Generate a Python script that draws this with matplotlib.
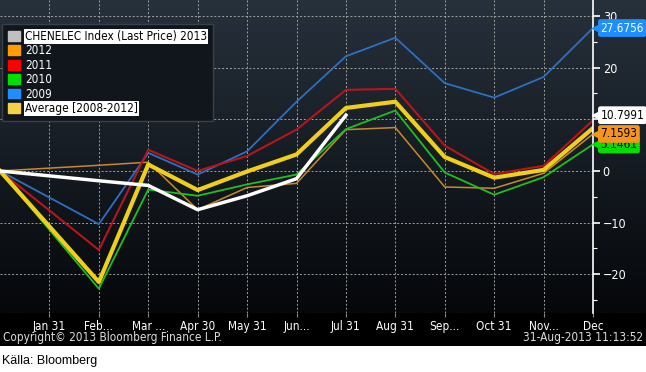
import matplotlib
matplotlib.use('Agg')
import matplotlib.pyplot as plt
import numpy as np
from matplotlib.patches import Rectangle, Patch

# month positions: 0 = start of year, 1..12 = month ends (no Jan point in data)
pos = [0, 2, 3, 4, 5, 6, 7, 8, 9, 10, 11, 12]
pos_2013 = [0, 2, 3, 4, 5, 6, 7]
month_labels = ['Jan 31', 'Feb...', 'Mar ...', 'Apr 30', 'May 31', 'Jun...',
                'Jul 31', 'Aug 31', 'Sep...', 'Oct 31', 'Nov...', 'Dec']

y2009 = [0, -10.3, 3.5, -0.7, 3.8, 13.4, 22.2, 25.8, 17.0, 14.2, 18.2, 27.6756]
y2010 = [0, -22.8, -3.6, -4.8, -2.6, -0.7, 8.1, 11.7, -0.3, -4.6, -1.2, 5.1461]
y2011 = [0, -15.3, 4.1, 0.0, 2.9, 8.0, 15.7, 15.9, 4.9, -0.6, 1.0, 9.8]
y2012 = [0, 1.1, 1.7, -7.5, -3.2, -2.4, 8.0, 8.4, -3.1, -3.35, -0.45, 7.1593]
y_avg = [0, -21.5, 1.25, -3.7, -0.1, 3.2, 12.2, 13.4, 2.7, -1.3, 0.2, 8.3]
y2013 = [0, -1.9, -2.8, -7.5, -4.8, -1.5, 10.7991]

W, H = 646, 372
fig = plt.figure(figsize=(W / 100, H / 100), dpi=100, facecolor='white')
font = dict(family='DejaVu Sans', stretch='condensed')

# black chart panel (footer area)
fig.patches.append(Rectangle((0, (H - 346) / H), 1, 346 / H, transform=fig.transFigure,
                             facecolor='black', edgecolor='none', zorder=-2))

# gradient background behind the plot area, including right label column
bot = (H - 313) / H
ax_bg = fig.add_axes([0, bot, 1, 1 - bot], zorder=0)
grad = np.linspace(1, 0, 256).reshape(-1, 1)
top_c = np.array([0x27, 0x31, 0x3c]) / 255
bot_c = np.array([0x05, 0x07, 0x0a]) / 255
img = bot_c + (top_c - bot_c) * grad[..., None]
ax_bg.imshow(img, aspect='auto', extent=[0, 1, 0, 1])
ax_bg.axis('off')

ax = fig.add_axes([0, bot, 593 / W, 1 - bot], zorder=1)
ax.patch.set_alpha(0)

ax.plot(pos, y2012, color='#c8892c', lw=1.1)
ax.plot(pos, y2010, color='#1fbf1f', lw=1.3)
ax.plot(pos, y2009, color='#2e6fbf', lw=1.3)
ax.plot(pos, y2011, color='#b8141c', lw=1.5)
ax.plot(pos, y_avg, color='#f0cf1a', lw=3)
ax.plot(pos_2013, y2013, color='white', lw=2.5)

ax.set_xlim(0, 12)
ax.set_ylim(-27.5, 33.1)
ax.set_xticks(range(1, 13))
ax.set_xticklabels(month_labels, fontsize=8.5, color='white', **font)
ax.set_yticks([-20, -10, 0, 10, 20, 30])
ax.set_yticks([-25, -15, -5, 5, 15, 25], minor=True)
ax.yaxis.tick_right()
ax.tick_params(axis='y', which='major', colors='white', length=5, width=1.2, pad=2,
               labelsize=9)
ax.tick_params(axis='y', which='minor', colors='white', length=3, width=0.8)
ax.tick_params(axis='x', colors='#888888', length=3, pad=2)
for lab in ax.get_yticklabels():
    lab.set_family(font['family'])
    lab.set_stretch(font['stretch'])
for lab in ax.get_xticklabels():
    lab.set_color('white')

ax.grid(True, which='major', color='#a0a0a0', linestyle=(0, (2, 2)), lw=0.7)
for s in ['top', 'left', 'bottom']:
    ax.spines[s].set_visible(False)
ax.spines['right'].set_color('white')
ax.spines['right'].set_linewidth(1.2)

# right side value tags
tags = [(5.1461, '5.1461', '#00e000', 'black'),
        (7.1593, '7.1593', '#f7941d', 'black'),
        (10.7991, '10.7991', 'white', 'black'),
        (27.6756, '27.6756', '#1e8fff', 'white')]
for val, txt, bg, fg in tags:
    ax.plot([12.09], [val], marker='<', ms=7, color=bg, clip_on=False, zorder=5)
    ax.text(12.15, val, txt, ha='left', va='center', fontsize=8.5, color=fg,
            clip_on=False, zorder=6, **font,
            bbox=dict(boxstyle='round,pad=0.2', fc=bg, ec='none'))

# legend
handles = [Patch(color='#c0c0c0'), Patch(color='#ff9a00'), Patch(color='#ff0000'),
           Patch(color='#00e000'), Patch(color='#1e8fff'), Patch(color='#f5d04a')]
names = ['CHENELEC Index (Last Price) 2013', '2012', '2011', '2010', '2009',
         'Average [2008-2012]']
leg = ax.legend(handles, names, loc='upper left',
                bbox_to_anchor=(2 / W, 1 - 24 / H), bbox_transform=fig.transFigure,
                borderaxespad=0,
                prop=dict(size=8.5, **font), handlelength=1.0, handleheight=0.9,
                handletextpad=0.45, labelspacing=0.12, borderpad=0.5,
                fancybox=False, framealpha=1)
leg.get_frame().set_facecolor('#11161c')
leg.get_frame().set_edgecolor('#3a4048')
for i, t in enumerate(leg.get_texts()):
    if i in (0, 5):
        t.set_color('black')
        t.set_bbox(dict(boxstyle='square,pad=0.1', fc='white', ec='none'))
    else:
        t.set_color('white')

fig.text(3 / W, 1 - 338 / H, 'Copyright\u00a9 2013 Bloomberg Finance L.P.',
         fontsize=8.5, color='#dddddd', va='center', ha='left', **font)
fig.text(643 / W, 1 - 338 / H, '31-Aug-2013 11:13:52',
         fontsize=8.5, color='#dddddd', va='center', ha='right', **font)
fig.text(2 / W, 1 - 361 / H, 'K\u00e4lla: Bloomberg', family='Liberation Sans',
         fontsize=9, color='black', va='center', ha='left')

fig.savefig('out.png', dpi=100, facecolor='white')
